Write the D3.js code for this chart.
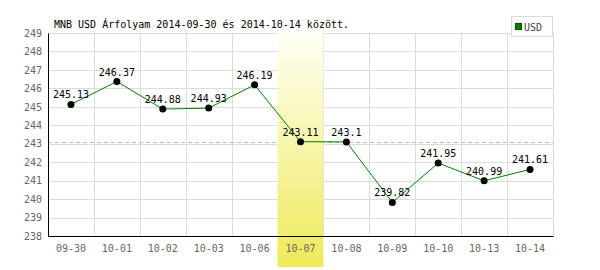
<!DOCTYPE html>
<html>
<head>
<meta charset="utf-8">
<script src="https://cdn.jsdelivr.net/npm/d3@7"></script>
<style>
  body { margin: 0; background: #fff; }
  text { font-family: "DejaVu Sans Mono", monospace; font-size: 10px; }
</style>
</head>
<body>
<div id="chart"></div>
<script>
var dates = ["09-30", "10-01", "10-02", "10-03", "10-06", "10-07", "10-08", "10-09", "10-10", "10-13", "10-14"];
var rates = [245.13, 246.37, 244.88, 244.93, 246.19, 243.11, 243.1, 239.82, 241.95, 240.99, 241.61];
var yTicks = [238, 239, 240, 241, 242, 243, 244, 245, 246, 247, 248, 249];
var highlightDate = "10-07";
var seriesName = "USD";
var title = "MNB USD Árfolyam 2014-09-30 és 2014-10-14 között.";

var margin = {top: 33, right: 47, bottom: 34, left: 48},
    width = 600 - margin.left - margin.right,
    height = 270 - margin.top - margin.bottom;

var svg = d3.select("#chart")
    .append("svg")
    .attr("width", 600)
    .attr("height", 270);

var defs = svg.append("defs");
var grad = defs.append("linearGradient")
    .attr("id", "hl")
    .attr("x1", 0).attr("y1", 0).attr("x2", 0).attr("y2", 1);
grad.append("stop").attr("offset", "0%").attr("stop-color", "#fffff6");
grad.append("stop").attr("offset", "100%").attr("stop-color", "#eeea58");

var canvas = svg.append("g")
    .attr("transform", "translate(" + margin.left + "," + margin.top + ")");

var xScale = d3.scaleBand()
    .domain(dates)
    .range([0, width]);

var yScale = d3.scaleLinear()
    .domain([238, 249])
    .range([height, 0]);

// grid
canvas.selectAll(".hgrid")
    .data(yTicks)
    .enter().append("line")
    .attr("class", "hgrid")
    .attr("x1", 0)
    .attr("x2", width)
    .attr("y1", function (d) { return Math.round(yScale(d)) + 0.5; })
    .attr("y2", function (d) { return Math.round(yScale(d)) + 0.5; })
    .attr("stroke", "#dcdcdc");

canvas.selectAll(".vgrid")
    .data(dates)
    .enter().append("line")
    .attr("class", "vgrid")
    .attr("x1", function (d) { return Math.round(xScale(d) + xScale.bandwidth()) + 0.5; })
    .attr("x2", function (d) { return Math.round(xScale(d) + xScale.bandwidth()) + 0.5; })
    .attr("y1", 0)
    .attr("y2", height)
    .attr("stroke", "#dcdcdc");

// reference line at highlighted value
var hlValue = rates[dates.indexOf(highlightDate)];
canvas.append("line")
    .attr("x1", 0)
    .attr("x2", width)
    .attr("y1", Math.round(yScale(hlValue)) + 0.5)
    .attr("y2", Math.round(yScale(hlValue)) + 0.5)
    .attr("stroke", "#a8cba8")
    .attr("stroke-dasharray", "4,3");

// highlighted day (covers the grid)
canvas.append("rect")
    .attr("x", xScale(highlightDate))
    .attr("y", 0)
    .attr("width", xScale.bandwidth())
    .attr("height", height + 31)
    .attr("fill", "url(#hl)");

// axes
var yAxis = d3.axisLeft(yScale).tickValues(yTicks).tickSize(0).tickPadding(6).tickFormat(d3.format("d"));
var yG = canvas.append("g").call(yAxis);
yG.select(".domain").attr("stroke", "#000");
yG.selectAll("text").attr("fill", "#666").style("font-size", "10px").style("font-family", "DejaVu Sans Mono, monospace");

var xAxis = d3.axisBottom(xScale).tickSize(0).tickPadding(9);
var xG = canvas.append("g")
    .attr("transform", "translate(0," + height + ")")
    .call(xAxis);
xG.select(".domain").attr("stroke", "#000");
xG.selectAll("text").attr("fill", "#666").style("font-size", "10px").style("font-family", "DejaVu Sans Mono, monospace");

// series
var cx = function (d, i) { return xScale(dates[i]) + xScale.bandwidth() / 2; };
var line = d3.line()
    .x(function (d, i) { return cx(d, i); })
    .y(function (d) { return yScale(d); });

canvas.append("path")
    .datum(rates)
    .attr("d", line)
    .attr("fill", "none")
    .attr("stroke", "#008000")
    .attr("stroke-width", 1);

canvas.selectAll(".dot")
    .data(rates)
    .enter().append("circle")
    .attr("class", "dot")
    .attr("cx", cx)
    .attr("cy", function (d) { return yScale(d); })
    .attr("r", 3.5)
    .attr("fill", "#000");

canvas.selectAll(".val")
    .data(rates)
    .enter().append("text")
    .attr("class", "val")
    .attr("x", cx)
    .attr("y", function (d) { return yScale(d) - 6; })
    .attr("text-anchor", "middle")
    .attr("fill", "#000")
    .text(function (d) { return d; });

// title
svg.append("text")
    .attr("x", 54)
    .attr("y", 28)
    .attr("fill", "#000")
    .text(title);

// legend
var legend = svg.append("g");
legend.append("rect")
    .attr("x", 511.5).attr("y", 16.5)
    .attr("width", 41).attr("height", 20)
    .attr("fill", "#fff")
    .attr("stroke", "#dcdcdc");
legend.append("rect")
    .attr("x", 515.5).attr("y", 23.5)
    .attr("width", 6).attr("height", 6)
    .attr("fill", "#008000")
    .attr("stroke", "#005000");
legend.append("text")
    .attr("x", 524)
    .attr("y", 31)
    .attr("fill", "#444")
    .text(seriesName);
</script>
</body>
</html>
